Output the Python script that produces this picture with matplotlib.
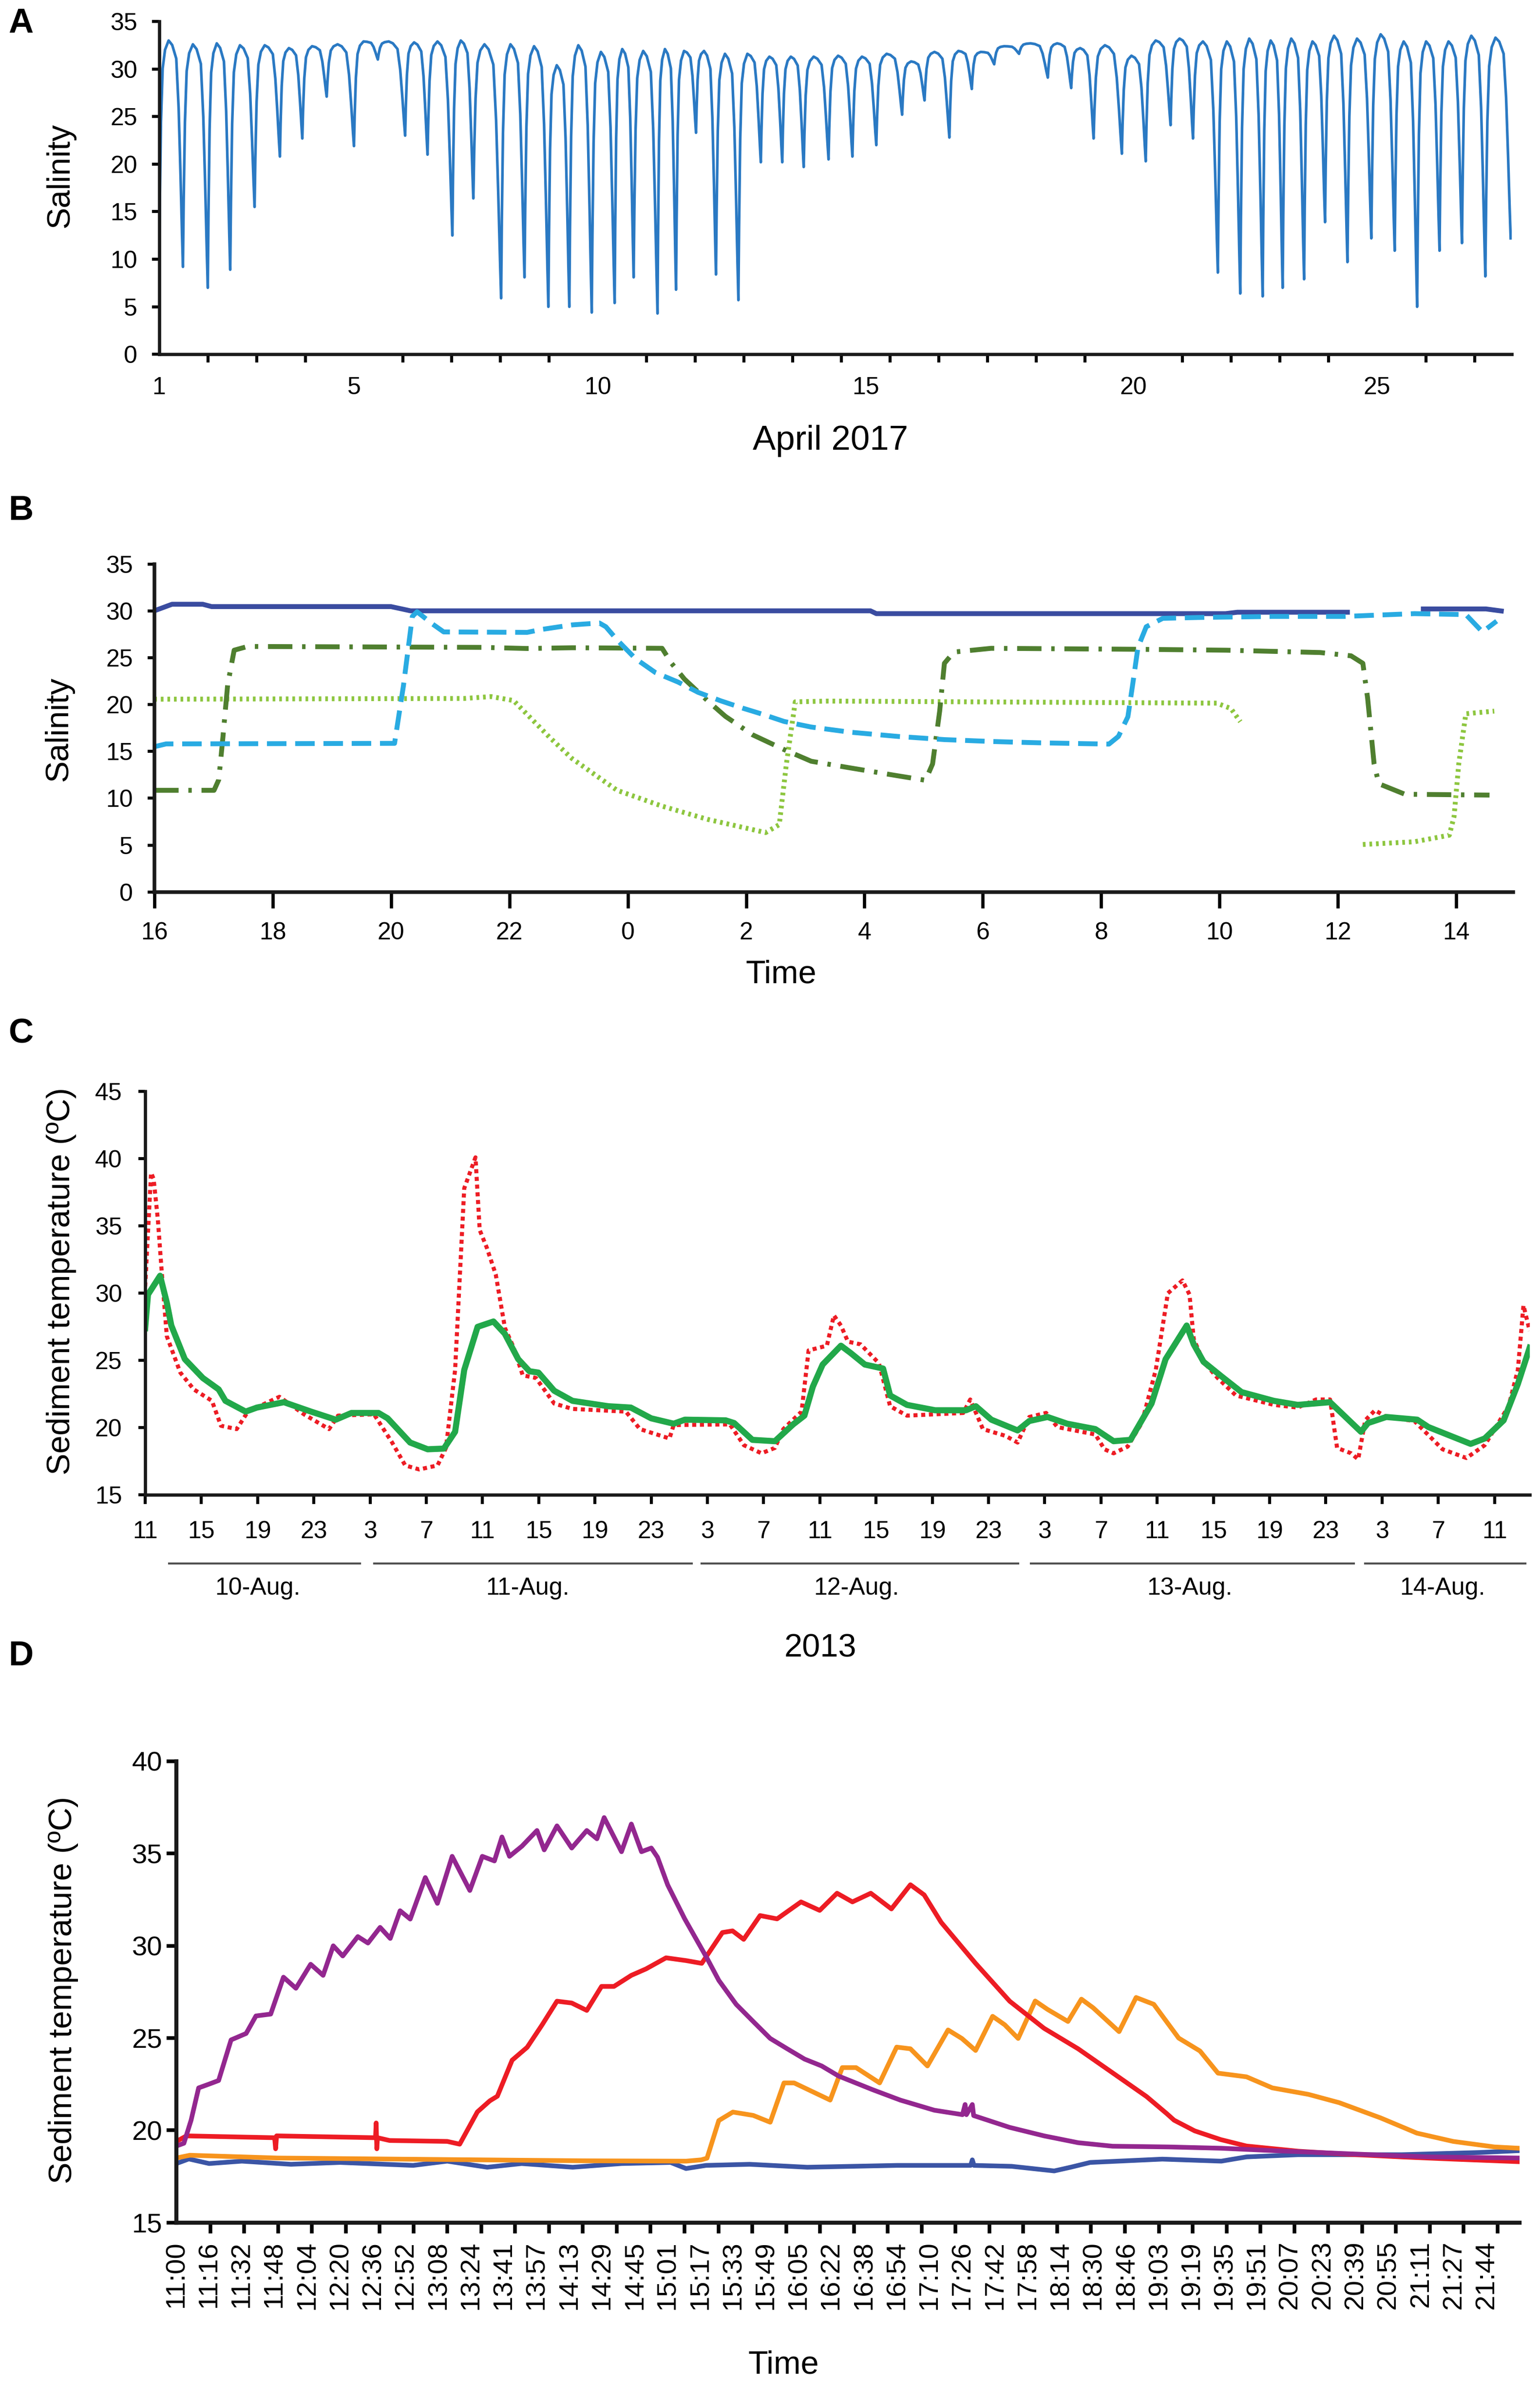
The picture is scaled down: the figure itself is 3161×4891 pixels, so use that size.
import numpy as np
import matplotlib.pyplot as plt
from matplotlib.ticker import FixedLocator

plt.rcParams['font.family'] = ['Liberation Sans', 'DejaVu Sans']

# ---------------- panel A : salinity, April 2017 (days after 1 April) -------------
a_dip_day = [0.0, 0.49, 1.00, 1.46, 1.96, 2.48, 2.94, 3.44, 4.00, 4.49, 5.05, 5.51, 6.02, 6.45,
             7.02, 7.50, 7.99, 8.42, 8.88, 9.35, 9.74, 10.23, 10.61, 11.02, 11.43, 11.89, 12.35,
             12.79, 13.23, 13.74, 14.23, 14.72, 15.25, 15.71, 16.22, 16.68, 17.14, 17.65, 18.24,
             18.72, 19.18, 19.76, 20.25, 20.76, 21.22, 21.73, 22.19, 22.65, 23.06, 23.50, 23.93,
             24.39, 24.88, 25.36, 25.82, 26.28, 26.74, 27.22, 27.74]
a_dip_sal = [8.5, 9.2, 7.0, 8.9, 15.5, 20.8, 22.7, 27.1, 21.9, 31.0, 23.0, 21.0, 12.5, 16.4,
             5.9, 8.1, 5.0, 5.0, 4.4, 5.4, 8.1, 4.3, 6.8, 23.3, 8.4, 5.7, 20.2, 20.2, 19.7, 20.5,
             20.8, 22.0, 25.2, 26.7, 22.8, 27.9, 30.5, 31.6, 29.1, 28.0, 22.7, 21.1, 20.3, 24.1,
             22.7, 8.6, 6.4, 6.1, 7.0, 7.9, 13.9, 9.7, 12.2, 10.9, 5.0, 10.9, 11.7, 8.2, 12.2]
a_peak_sal = [33.0, 32.6, 32.7, 32.5, 32.5, 32.2, 32.4, 32.6, 32.9, 32.9, 32.8, 32.9, 33.0, 32.6,
              32.6, 32.4, 30.4, 32.5, 31.8, 32.1, 31.9, 32.1, 31.9, 31.9, 31.6, 31.6, 31.3, 31.3,
              31.3, 31.4, 31.3, 31.6, 30.8, 31.8, 31.9, 31.8, 32.4, 32.7, 32.7, 32.2, 32.5, 31.4,
              33.0, 33.2, 32.9, 32.9, 33.2, 33.0, 33.2, 32.9, 33.5, 33.2, 33.65, 32.9, 32.9, 32.9,
              33.5, 33.3]
a_label_pos = [0, 4, 9, 14.5, 20, 25]
a_labels = ['1', '5', '10', '15', '20', '25']

# ---------------- panel B : salinity, hours after 16:00 ----------------
b_navy_h = [0.0, 0.3, 0.82, 0.97, 4.0, 4.33, 11.4, 12.1, 12.2, 18.1, 18.3, 20.2, np.nan, 21.4, 22.5, 22.8]
b_navy_v = [30.0, 30.7, 30.7, 30.45, 30.45, 30.0, 30.0, 30.0, 29.7, 29.7, 29.85, 29.85, np.nan, 30.2, 30.2, 29.95]

b_sky_h = [0.0, 0.2, 4.06, 4.21, 4.36, 4.44, 4.7, 4.89, 6.3, 6.53, 7.06, 7.52, 7.63, 7.82, 8.13,
           8.47, 8.85, 9.19, 9.57, 9.95, 10.26, 10.64, 11.1, 11.76, 12.56, 13.35, 14.14, 14.94,
           16.13, 16.29, 16.45, 16.53, 16.62, 16.76, 17.04, 17.72, 18.9, 20.1, 21.29, 22.16, 22.44, 22.68]
b_sky_v = [15.5, 15.8, 15.86, 22.0, 29.4, 29.9, 28.6, 27.75, 27.7, 28.0, 28.5, 28.7, 28.3, 26.9,
           24.9, 23.4, 22.4, 21.3, 20.4, 19.6, 19.0, 18.2, 17.6, 17.05, 16.6, 16.26, 16.06, 15.92,
           15.78, 16.6, 18.7, 22.1, 26.1, 28.3, 29.2, 29.3, 29.4, 29.4, 29.7, 29.6, 27.75, 28.9]

b_olive_h = [0.0, 1.01, 1.09, 1.16, 1.24, 1.35, 1.58, 5.54, 6.3, 7.06, 8.58, 8.74, 8.96, 9.35,
             9.65, 10.11, 10.64, 11.1, 11.76, 12.56, 13.03, 13.15, 13.27, 13.35, 13.51, 14.14,
             16.53, 18.11, 19.7, 20.22, 20.42, 20.5, 20.61, 20.69, 21.13, 22.56]
b_olive_v = [10.85, 10.85, 11.98, 16.5, 22.1, 25.8, 26.2, 26.1, 25.98, 26.06, 26.0, 24.4, 22.7,
             20.4, 18.74, 16.77, 15.2, 13.95, 13.24, 12.4, 11.92, 13.66, 19.3, 24.4, 25.6, 26.0,
             25.9, 25.8, 25.55, 25.2, 24.4, 20.7, 13.66, 11.55, 10.43, 10.34]

b_lime_h = [0.0, 5.24, 5.69, 6.07, 6.68, 7.06, 7.82, 8.58, 9.35, 10.33, 10.56, 10.68, 10.83,
            11.38, 17.95, 18.19, 18.35, np.nan, 20.42, 21.29, 21.88, 21.96, 22.04, 22.16, 22.64]
b_lime_v = [20.57, 20.65, 20.85, 20.43, 16.5, 14.23, 10.85, 9.16, 7.75, 6.34, 7.19, 13.67, 20.29,
            20.37, 20.15, 19.58, 18.17, np.nan, 5.07, 5.36, 6.06, 8.03, 13.67, 19.02, 19.3]

b_ticks = [0, 2, 4, 6, 8, 10, 12, 14, 16, 18, 20, 22]
b_ticklabels = ['16', '18', '20', '22', '0', '2', '4', '6', '8', '10', '12', '14']

# ---------------- panel C : sediment temperature, hours after 10 Aug 11:00 ----------------
c_green_t = [0.0, 0.2, 1.06, 1.54, 1.86, 2.82, 4.1, 5.23, 5.71, 7.15, 7.95, 9.87, 11.8, 13.56,
             14.68, 16.6, 17.25, 18.85, 20.1, 21.25, 22.05, 22.7, 23.65, 24.78, 25.58, 26.54,
             27.34, 27.98, 29.1, 30.4, 31.35, 32.95, 34.55, 36.0, 37.6, 38.4, 41.3, 41.9, 43.2,
             44.8, 46.1, 46.9, 47.5, 48.2, 49.5, 50.2, 51.2, 52.5, 53.0, 54.2, 56.2, 58.4, 59.1,
             60.2, 62.07, 62.9, 64.2, 65.6, 67.6, 68.9, 70.1, 71.6, 72.6, 74.1, 74.6, 75.3, 76.6,
             78.0, 80.3, 82.0, 84.3, 85.0, 86.5, 87.0, 88.3, 90.5, 91.3, 94.3, 95.3, 96.65, 97.66, 98.5]
c_green_v = [27.4, 29.9, 31.3, 29.3, 27.6, 25.1, 23.7, 22.85, 22.0, 21.2, 21.5, 21.9, 21.2, 20.6,
             21.1, 21.1, 20.7, 18.9, 18.4, 18.45, 19.7, 24.3, 27.5, 27.9, 27.0, 25.1, 24.2, 24.1,
             22.75, 22.0, 21.85, 21.6, 21.5, 20.7, 20.3, 20.6, 20.55, 20.35, 19.1, 19.0, 20.25,
             20.9, 23.05, 24.7, 26.1, 25.55, 24.7, 24.4, 22.4, 21.7, 21.3, 21.3, 21.6, 20.6, 19.8,
             20.5, 20.8, 20.3, 19.9, 19.0, 19.1, 21.8, 25.1, 27.6, 26.2, 24.9, 23.8, 22.65, 22.0,
             21.7, 21.9, 21.2, 19.7, 20.35, 20.8, 20.6, 20.05, 18.8, 19.2, 20.55, 23.25, 25.95]

c_red_t = [0.0, 0.42, 0.6, 0.9, 1.22, 1.54, 2.5, 3.46, 4.75, 5.39, 6.51, 7.31, 9.55, 11.3, 13.08,
           13.72, 16.28, 17.57, 18.5, 19.5, 20.8, 21.4, 22.05, 22.7, 23.5, 23.8, 24.3, 24.94, 25.6,
           26.2, 26.86, 27.8, 29.1, 30.4, 34.2, 35.2, 37.3, 37.6, 41.6, 42.6, 43.85, 44.8, 45.4,
           46.7, 47.2, 48.5, 49.0, 49.5, 50.0, 50.9, 52.2, 53.0, 54.2, 58.2, 58.7, 59.6, 61.2,
           62.07, 62.9, 64.1, 64.9, 67.6, 68.25, 68.9, 69.9, 70.9, 71.9, 72.76, 73.8, 74.3, 74.6,
           75.3, 76.3, 77.6, 80.3, 82.0, 83.3, 84.3, 84.8, 85.8, 86.3, 86.8, 87.5, 88.3, 90.3,
           92.3, 94.0, 95.3, 97.0, 97.66, 98.06, 98.5]
c_red_v = [30.5, 38.95, 38.5, 35.5, 31.0, 26.8, 24.1, 22.85, 22.0, 20.15, 19.9, 21.2, 22.3, 21.0,
           19.9, 20.9, 21.0, 18.9, 17.2, 16.9, 17.2, 18.5, 24.3, 37.8, 40.1, 34.7, 33.4, 31.4, 27.4,
           26.0, 23.9, 23.7, 21.8, 21.4, 21.2, 19.9, 19.2, 20.2, 20.25, 18.7, 18.1, 18.5, 19.9,
           21.2, 25.75, 26.1, 28.35, 27.6, 26.4, 26.2, 24.8, 21.6, 20.9, 21.1, 22.1, 19.9, 19.4,
           18.9, 20.8, 21.1, 20.05, 19.5, 18.4, 18.1, 18.6, 20.35, 24.3, 30.0, 30.95, 29.9, 26.6,
           24.9, 23.7, 22.4, 21.7, 21.5, 22.1, 22.1, 18.5, 18.1, 17.65, 20.55, 21.3, 20.8, 20.5,
           18.4, 17.75, 18.7, 21.6, 24.3, 29.1, 27.2]

c_ticks = list(range(0, 97, 4))
c_ticklabels = ['11', '15', '19', '23', '3', '7', '11', '15', '19', '23', '3', '7', '11',
                '15', '19', '23', '3', '7', '11', '15', '19', '23', '3', '7', '11']
c_days = ['10-Aug.', '11-Aug.', '12-Aug.', '13-Aug.', '14-Aug.']
c_day_start = [1.7, 16.3, 39.6, 63.0, 86.8]
c_day_end = [15.3, 38.9, 62.1, 86.0, 98.2]
c_day_mid = [8.0, 27.2, 50.6, 74.3, 92.3]

# ---------------- panel D : sediment temperature, position in label steps ----------------
d_labels = ['11:00', '11:16', '11:32', '11:48', '12:04', '12:20', '12:36', '12:52', '13:08',
            '13:24', '13:41', '13:57', '14:13', '14:29', '14:45', '15:01', '15:17', '15:33',
            '15:49', '16:05', '16:22', '16:38', '16:54', '17:10', '17:26', '17:42', '17:58',
            '18:14', '18:30', '18:46', '19:03', '19:19', '19:35', '19:51', '20:07', '20:23',
            '20:39', '20:55', '21:11', '21:27', '21:44']

d_purple_x = [0.0, 0.23, 0.45, 0.68, 0.99, 1.29, 1.67, 2.13, 2.43, 2.88, 3.27, 3.65, 4.10, 4.48,
              4.79, 5.08, 5.54, 5.85, 6.22, 6.53, 6.83, 7.14, 7.60, 7.97, 8.42, 8.96, 9.34, 9.71,
              9.94, 10.17, 10.55, 11.01, 11.23, 11.62, 12.07, 12.53, 12.84, 13.06, 13.59, 13.89,
              14.20, 14.50, 14.69, 15.0, 15.52, 16.2, 16.56, 17.09, 17.61, 18.13, 18.65, 19.18,
              19.7, 20.22, 21.26, 22.1, 23.14, 24.0, 24.08, 24.12, 24.3, 24.34, 25.44, 26.49,
              27.53, 28.58, 30.3, 31.9, 33.5, 35.8, 38.2, 41.0]
d_purple_v = [19.15, 19.3, 20.55, 22.3, 22.5, 22.7, 24.9, 25.25, 26.2, 26.3, 28.3, 27.7, 29.0,
              28.4, 30.0, 29.45, 30.5, 30.15, 31.0, 30.4, 31.9, 31.45, 33.7, 32.3, 34.85, 33.0,
              34.85, 34.6, 35.9, 34.85, 35.4, 36.25, 35.2, 36.5, 35.3, 36.25, 35.8, 36.95, 35.1,
              36.6, 35.1, 35.3, 34.8, 33.3, 31.46, 29.33, 28.13, 26.83, 25.9, 24.98, 24.42, 23.86,
              23.49, 22.94, 22.2, 21.64, 21.09, 20.85, 21.4, 20.85, 21.4, 20.8, 20.16, 19.7, 19.33,
              19.14, 19.1, 19.03, 18.9, 18.73, 18.56, 18.5]

d_red_x = [0.0, 0.31, 3.0, 3.03, 3.06, 6.08, 6.10, 6.12, 6.14, 6.51, 8.27, 8.65, 9.19, 9.57, 9.80,
           10.25, 10.71, 11.16, 11.62, 12.07, 12.53, 12.98, 13.36, 13.89, 14.34, 14.95, 15.56,
           16.04, 16.67, 16.98, 17.32, 17.82, 18.34, 19.07, 19.64, 20.17, 20.64, 21.2, 21.83,
           22.41, 22.83, 23.35, 24.4, 25.44, 26.49, 27.53, 28.58, 29.62, 30.24, 30.46, 31.09,
           31.88, 32.67, 34.25, 35.8, 37.4, 38.98, 41.0]
d_red_v = [19.4, 19.7, 19.6, 19.0, 19.7, 19.6, 20.4, 19.0, 19.6, 19.45, 19.4, 19.25, 21.0, 21.6,
           21.85, 23.8, 24.5, 25.7, 27.0, 26.9, 26.5, 27.8, 27.8, 28.4, 28.75, 29.35, 29.2, 29.05,
           30.72, 30.81, 30.35, 31.64, 31.46, 32.38, 31.92, 32.85, 32.38, 32.85, 32.0, 33.31,
           32.76, 31.27, 29.05, 27.0, 25.53, 24.42, 23.12, 21.83, 20.9, 20.55, 19.97, 19.5, 19.15,
           18.87, 18.7, 18.56, 18.44, 18.3]

d_orange_x = [0.0, 0.41, 3.1, 6.2, 9.3, 12.4, 15.56, 16.02, 16.2, 16.56, 16.99, 17.61, 18.13,
              18.55, 18.86, 19.96, 20.33, 20.75, 21.47, 21.99, 22.41, 22.93, 23.56, 23.98, 24.4,
              24.92, 25.29, 25.7, 26.22, 26.6, 27.22, 27.63, 27.99, 28.78, 29.3, 29.84, 30.6,
              31.25, 31.8, 32.67, 33.46, 34.56, 35.5, 36.77, 37.87, 38.98, 40.24, 41.0]
d_orange_v = [18.5, 18.65, 18.5, 18.45, 18.4, 18.35, 18.33, 18.4, 18.49, 20.53, 20.99, 20.81,
              20.44, 22.57, 22.57, 21.64, 23.4, 23.4, 22.57, 24.51, 24.42, 23.49, 25.44, 24.98,
              24.33, 26.18, 25.72, 24.98, 27.01, 26.55, 25.9, 27.11, 26.64, 25.35, 27.2, 26.83,
              25.0, 24.3, 23.1, 22.9, 22.3, 21.95, 21.5, 20.67, 19.85, 19.4, 19.1, 19.03]

d_blue_x = [0.0, 0.38, 1.0, 2.0, 3.5, 5.0, 7.23, 8.27, 9.49, 10.54, 12.1, 13.59, 15.09, 15.56,
            16.17, 17.5, 19.26, 22.0, 24.25, 24.3, 24.35, 25.5, 26.8, 27.3, 27.9, 30.1, 31.9,
            32.67, 34.25, 37.4, 39.8, 41.0]
d_blue_v = [18.2, 18.45, 18.2, 18.33, 18.16, 18.26, 18.1, 18.33, 18.0, 18.2, 18.0, 18.2, 18.26,
            17.93, 18.1, 18.16, 18.0, 18.1, 18.1, 18.4, 18.1, 18.05, 17.8, 18.0, 18.26, 18.44,
            18.33, 18.56, 18.68, 18.68, 18.8, 18.9]


def tide_line(dip_t, dip_v, peak_v):
    # rounded tops and V-shaped troughs between the read trough / peak values
    fr = np.array([0.03, 0.08, 0.15, 0.25, 0.4, 0.55, 0.72, 0.82, 0.9, 0.96])
    left = np.array([0.7, 0.35, 0.12, 0.04, 0.0, 0.0, 0.0, 0.0, 0.0, 0.0])
    right = np.array([0.0, 0.0, 0.0, 0.0, 0.0, 0.02, 0.08, 0.3, 0.6, 0.85])
    xs, ys = [dip_t[0]], [dip_v[0]]
    for i in range(len(peak_v)):
        t0, t1 = dip_t[i], dip_t[i + 1]
        a = peak_v[i] - dip_v[i]
        b = peak_v[i] - dip_v[i + 1]
        xs += list(t0 + fr * (t1 - t0))
        ys += list(peak_v[i] - a * left - b * right)
        xs.append(t1)
        ys.append(dip_v[i + 1])
    return xs, ys


def clean(ax, lw=1.6):
    ax.spines['top'].set_visible(False)
    ax.spines['right'].set_visible(False)
    for s in ['left', 'bottom']:
        ax.spines[s].set_linewidth(lw)
        ax.spines[s].set_color('#1a1a1a')


fig = plt.figure(figsize=(3162 / 300, 4891 / 300), dpi=300)

# ---- A
axA = fig.add_axes([0.10326, 0.85130, 0.87802, 0.13969])
clean(axA)
xa, ya = tide_line(a_dip_day, a_dip_sal, a_peak_sal)
axA.plot(xa, ya, color='#2a79c3', lw=1.3)
axA.set_xlim(0, 27.76)
axA.set_ylim(0, 35)
axA.set_yticks(range(0, 36, 5))
axA.xaxis.set_major_locator(FixedLocator(a_label_pos))
axA.set_xticklabels(a_labels)
axA.xaxis.set_minor_locator(FixedLocator(range(0, 28)))
axA.tick_params(axis='x', which='major', length=0, pad=11, labelsize=12)
axA.tick_params(axis='x', which='minor', length=4, width=1.5)
axA.tick_params(axis='y', length=3.7, width=1.5, pad=7, labelsize=12)
fig.text(0.0391, 0.9264, 'Salinity', rotation=90, ha='center', va='center', fontsize=16)
fig.text(0.539, 0.815, 'April 2017', ha='center', va='center', fontsize=17)

# ---- B
axB = fig.add_axes([0.10013, 0.62568, 0.88216, 0.13766])
clean(axB, 1.8)
axB.plot(b_navy_h, b_navy_v, color='#3a4ca0', lw=2.4, solid_capstyle='butt')
axB.plot(b_lime_h, b_lime_v, color='#8dc63f', lw=2.4, dashes=(0.55, 0.8))
axB.plot(b_olive_h, b_olive_v, color='#4f7f2f', lw=2.4, dashes=(5, 2, 0.7, 2))
axB.plot(b_sky_h, b_sky_v, color='#29abe2', lw=2.4, dashes=(4.0, 1.8))
axB.set_xlim(0, 22.96)
axB.set_ylim(0, 35)
axB.set_yticks(range(0, 36, 5))
axB.set_xticks(b_ticks)
axB.set_xticklabels(b_ticklabels)
axB.tick_params(axis='x', length=7.8, width=1.6, pad=7, labelsize=12)
axB.tick_params(axis='y', length=3.4, width=1.5, pad=7, labelsize=12)
axB.xaxis.get_major_ticks()[9].tick1line.set_color('#4a6cc0')
fig.text(0.0383, 0.694, 'Salinity', rotation=90, ha='center', va='center', fontsize=16)
fig.text(0.507, 0.5909, 'Time', ha='center', va='center', fontsize=16)

# ---- C
axC = fig.add_axes([0.09424, 0.37264, 0.89873, 0.16934])
clean(axC)
axC.plot(c_red_t, c_red_v, color='#ed1c24', lw=2.0, dashes=(1, 0.9))
axC.plot(c_green_t, c_green_v, color='#22a84a', lw=3.0)
axC.set_xlim(0, 98.5)
axC.set_ylim(15, 45)
axC.set_yticks(range(15, 46, 5))
axC.set_xticks(c_ticks)
axC.set_xticklabels(c_ticklabels)
axC.tick_params(axis='x', length=4.6, width=1.5, pad=8, labelsize=12)
axC.tick_params(axis='y', length=3.4, width=1.5, pad=8, labelsize=12)
tr = axC.get_xaxis_transform()
for s, e, m, name in zip(c_day_start, c_day_end, c_day_mid, c_days):
    axC.plot([s, e], [-0.1697, -0.1697], transform=tr, clip_on=False, color='#505050', lw=1.0)
    axC.text(m, -0.2312, name, transform=tr, ha='center', va='center', fontsize=12)
fig.text(0.0400, 0.4623, 'Sediment temperature (ºC)', rotation=90, ha='center', va='center',
         fontsize=16)
fig.text(0.5325, 0.3083, '2013', ha='center', va='center', fontsize=16)

# ---- D
axD = fig.add_axes([0.11448, 0.06731, 0.87179, 0.19358])
clean(axD, 2.0)
axD.plot(d_blue_x, d_blue_v, color='#3b55a5', lw=2.3)
axD.plot(d_orange_x, d_orange_v, color='#f7941d', lw=2.3)
axD.plot(d_red_x, d_red_v, color='#ed1c24', lw=2.3)
axD.plot(d_purple_x, d_purple_v, color='#93278f', lw=2.3)
axD.set_xlim(0, 41.0)
axD.set_ylim(15, 40)
axD.set_yticks(range(15, 41, 5))
axD.xaxis.set_major_locator(FixedLocator(range(len(d_labels))))
axD.set_xticklabels(d_labels, rotation=90)
tick_step = 69.5 / 67.2
axD.xaxis.set_minor_locator(FixedLocator([i * tick_step for i in range(40)]))
axD.tick_params(axis='x', which='major', length=0, pad=9, labelsize=13.5)
axD.tick_params(axis='x', which='minor', length=5.3, width=1.8)
axD.tick_params(axis='y', length=4.9, width=1.8, pad=2, labelsize=13.5)
fig.text(0.0411, 0.1648, 'Sediment temperature (ºC)', rotation=90, ha='center', va='center',
         fontsize=16)
fig.text(0.5085, 0.0075, 'Time', ha='center', va='center', fontsize=16)

# panel letters
for letter, y in zip(['A', 'B', 'C', 'D'], [0.990, 0.7855, 0.5661, 0.3048]):
    fig.text(0.0136, y, letter, ha='center', va='center', fontsize=17, fontweight='bold')

fig.savefig('out.png', dpi=300)
